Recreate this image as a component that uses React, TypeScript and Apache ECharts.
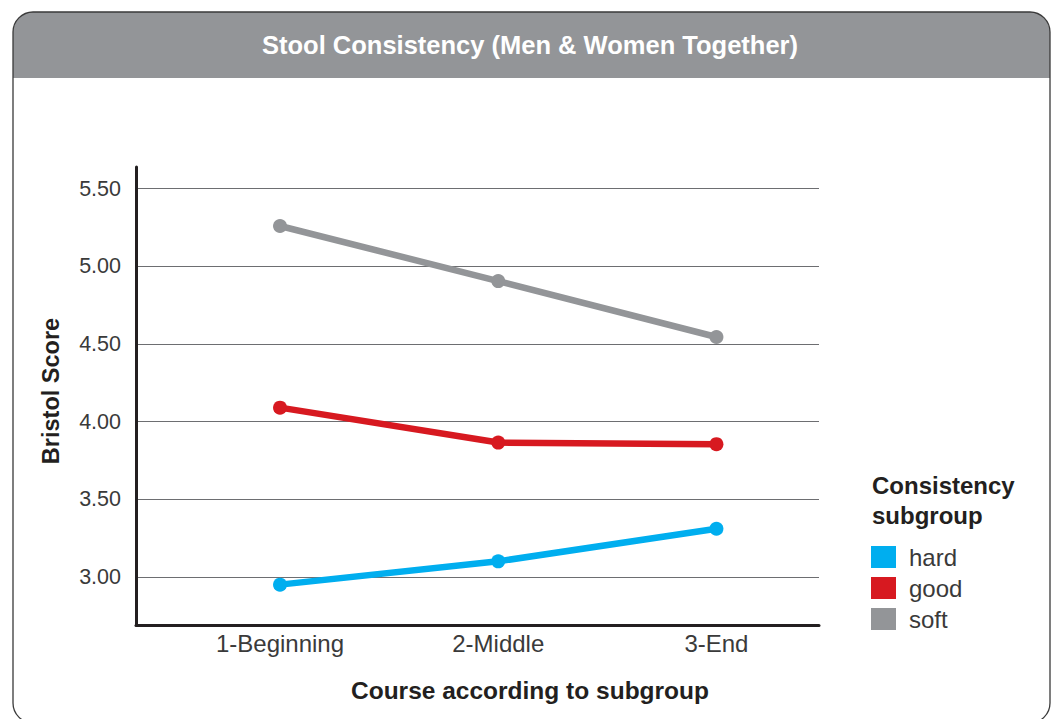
import React, { useEffect, useRef } from "react";
import * as echarts from "echarts";

const categories = ["1-Beginning", "2-Middle", "3-End"];
const hardValues = [2.95, 3.1, 3.31];
const goodValues = [4.09, 3.865, 3.855];
const softValues = [5.26, 4.905, 4.545];
const yTicks = [3.0, 3.5, 4.0, 4.5, 5.0, 5.5];
const seriesNames = ["hard", "good", "soft"];
const seriesColors = ["#00aeef", "#d71920", "#939598"];

const FONT = "'Liberation Sans', Arial, Helvetica, sans-serif";

export default function App() {
  const ref = useRef<HTMLDivElement>(null);

  useEffect(() => {
    if (!ref.current) return;
    const chart = echarts.init(ref.current, undefined, { renderer: "svg" });
    const valuesList = [hardValues, goodValues, softValues];
    const toPoints = (vals: number[]) => categories.map((_, i) => [i, vals[i]]);

    chart.setOption({
      animation: false,
      backgroundColor: "#ffffff",
      textStyle: { fontFamily: FONT },
      title: [
        {
          text: "Stool Consistency (Men & Women Together)",
          left: 530,
          textAlign: "center",
          top: 32,
          padding: 0,
          textStyle: { color: "#ffffff", fontSize: 25.5, fontWeight: "bold", fontFamily: FONT },
        },
        {
          text: "Consistency\nsubgroup",
          left: 872,
          top: 470,
          padding: 0,
          textStyle: { color: "#231f20", fontSize: 24, fontWeight: "bold", lineHeight: 30, fontFamily: FONT },
        },
      ],
      graphic: [
        {
          type: "rect",
          z: -10,
          shape: { x: 13, y: 12, width: 1037, height: 66, r: [20, 20, 0, 0] },
          style: { fill: "#939598" },
          silent: true,
        },
        {
          type: "rect",
          z: -9,
          shape: { x: 13, y: 12, width: 1037, height: 711, r: 20 },
          style: { fill: "none", stroke: "#3a3a3a", lineWidth: 1.3 },
          silent: true,
        },
        {
          type: "text",
          x: 51,
          y: 391,
          rotation: Math.PI / 2,
          style: {
            text: "Bristol Score",
            fill: "#231f20",
            font: `bold 23.5px ${FONT}`,
            textAlign: "center",
            textVerticalAlign: "middle",
          },
        },
        {
          type: "text",
          x: 530,
          y: 690,
          style: {
            text: "Course according to subgroup",
            fill: "#231f20",
            font: `bold 24.5px ${FONT}`,
            textAlign: "center",
            textVerticalAlign: "middle",
          },
        },
      ],
      legend: {
        data: seriesNames,
        orient: "vertical",
        left: 871,
        top: 545,
        icon: "rect",
        itemWidth: 25,
        itemHeight: 22,
        itemGap: 7,
        padding: 0,
        textStyle: { color: "#3a3a3a", fontSize: 24, fontFamily: FONT, padding: [0, 0, 0, 8] },
      },
      grid: { left: 136, top: 167, right: 237, bottom: 94, containLabel: false },
      xAxis: {
        type: "value",
        min: -0.66,
        max: 2.47,
        axisLine: { show: true, lineStyle: { color: "#231f20", width: 3 } },
        axisTick: { show: false, customValues: [0, 1, 2] },
        splitLine: { show: false },
        axisLabel: {
          customValues: [0, 1, 2],
          formatter: (v: number) => categories[Math.round(v)] ?? "",
          color: "#3a3a3a",
          fontSize: 24,
          fontFamily: FONT,
          margin: 6,
        },
      },
      yAxis: {
        type: "value",
        min: 2.69,
        max: 5.64,
        axisLine: { show: true, onZero: false, lineStyle: { color: "#231f20", width: 3 } },
        axisTick: { show: false, customValues: yTicks },
        splitLine: { show: true, lineStyle: { color: "#6d6e71", width: 1.2 } },
        axisLabel: {
          customValues: yTicks,
          formatter: (v: number) => v.toFixed(2),
          color: "#3a3a3a",
          fontSize: 21.5,
          fontFamily: FONT,
          margin: 15,
        },
      },
      series: seriesNames.map((name, idx) => ({
        name,
        type: "line",
        data: toPoints(valuesList[idx]),
        symbol: "circle",
        symbolSize: 14,
        lineStyle: { color: seriesColors[idx], width: 6.5 },
        itemStyle: { color: seriesColors[idx] },
        z: 3,
      })),
    });

    return () => chart.dispose();
  }, []);

  return (
    <div
      ref={ref}
      style={{ position: "absolute", left: 0, top: 0, width: 1056, height: 719 }}
    />
  );
}
